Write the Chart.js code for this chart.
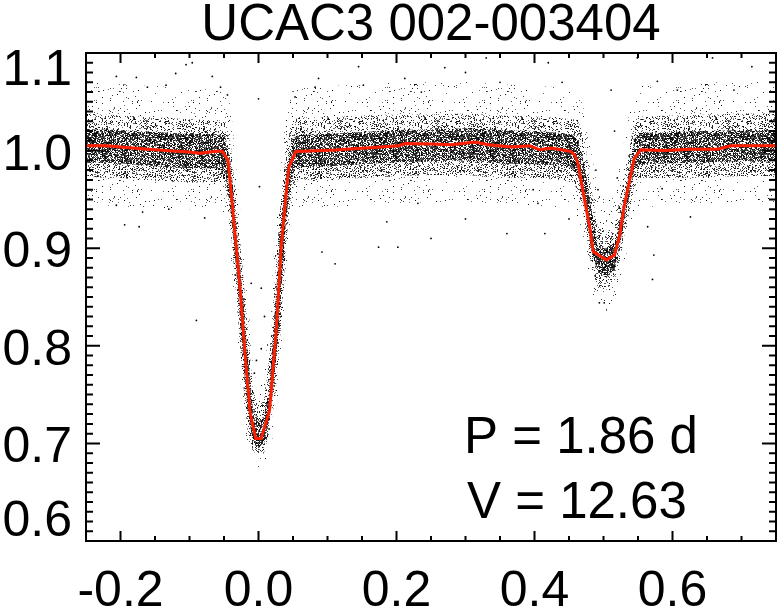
<!DOCTYPE html>
<html><head><meta charset="utf-8"><title>UCAC3 002-003404</title>
<script src="https://cdn.jsdelivr.net/npm/chart.js@4/dist/chart.umd.min.js"></script>
<style>html,body{margin:0;padding:0;background:#fff}canvas{display:block}</style>
</head><body>
<canvas id="lc" width="780" height="609"></canvas>
<script>
// ================== DATA ==================
const starName="UCAC3 002-003404";
const infoLines=["P = 1.86 d","V = 12.63"];
const xTicks=[-0.2,0.0,0.2,0.4,0.6];
const yTicks=[0.6,0.7,0.8,0.9,1.0,1.1];

// red model curve
const modelPhase=[-0.25,-0.22,-0.17,-0.124,-0.105,-0.086,-0.057,-0.052,-0.045,-0.044,-0.035,-0.027,-0.018,-0.012,-0.004,0.004,0.016,0.0255,0.033,0.040,0.044,0.054,0.111,0.183,0.2033,0.212,0.2514,0.280,0.314,0.333,0.367,0.393,0.4077,0.424,0.439,0.453,0.458,0.463,0.4725,0.480,0.485,0.504,0.516,0.523,0.530,0.5446,0.554,0.588,0.626,0.665,0.684,0.75];
const modelFlux=[1.005,1.005,1.002,0.9995,0.9988,0.9974,0.9995,0.999,0.991,0.989,0.922,0.861,0.779,0.731,0.705,0.705,0.734,0.813,0.902,0.956,0.983,0.999,1.0005,1.004,1.005,1.0073,1.0067,1.006,1.0087,1.006,1.0036,1.005,1.0008,1.0026,1.0008,0.999,0.9957,0.987,0.9495,0.922,0.8965,0.888,0.893,0.912,0.943,0.992,1.0008,1.0001,1.0015,1.0015,1.005,1.005];

// point cloud edges on one phase grid: sparse halo, dense band, dark core
const cloudPhase=[-0.25,-0.20,-0.15,-0.10,-0.06,-0.048,-0.040,-0.032,-0.024,-0.016,-0.008,0.0,0.008,0.016,0.024,0.032,0.040,0.048,0.058,0.10,0.15,0.20,0.25,0.30,0.35,0.40,0.44,0.455,0.463,0.4725,0.482,0.4915,0.5036,0.516,0.5255,0.535,0.5446,0.554,0.60,0.65,0.70,0.75];
const haloHi=[1.070,1.068,1.066,1.064,1.062,1.060,1.045,0.980,0.920,0.850,0.780,0.750,0.770,0.830,0.910,0.980,1.040,1.060,1.065,1.066,1.068,1.070,1.070,1.070,1.068,1.066,1.065,1.064,1.060,1.040,1.000,0.960,0.950,0.960,0.990,1.030,1.060,1.066,1.068,1.070,1.070,1.070];
const haloLo=[0.945,0.943,0.940,0.940,0.940,0.935,0.890,0.820,0.745,0.690,0.680,0.675,0.680,0.690,0.720,0.780,0.870,0.930,0.940,0.942,0.944,0.946,0.947,0.947,0.945,0.944,0.942,0.938,0.930,0.900,0.855,0.840,0.835,0.845,0.870,0.900,0.935,0.942,0.944,0.945,0.946,0.946];
const outerHi=[1.038,1.036,1.034,1.032,1.031,1.030,1.005,0.945,0.888,0.820,0.755,0.735,0.745,0.790,0.870,0.945,1.000,1.030,1.034,1.034,1.036,1.037,1.037,1.038,1.036,1.035,1.033,1.032,1.031,1.011,0.963,0.922,0.916,0.922,0.956,0.990,1.031,1.035,1.036,1.037,1.038,1.038];
const outerLo=[0.973,0.972,0.969,0.967,0.968,0.965,0.915,0.850,0.775,0.715,0.692,0.688,0.690,0.712,0.745,0.815,0.905,0.960,0.970,0.970,0.972,0.974,0.975,0.975,0.973,0.972,0.970,0.967,0.960,0.929,0.881,0.861,0.857,0.867,0.895,0.929,0.963,0.972,0.972,0.973,0.974,0.974];
const innerHi=[1.022,1.021,1.019,1.017,1.017,1.015,0.985,0.925,0.860,0.795,0.735,0.722,0.728,0.760,0.840,0.920,0.975,1.012,1.016,1.017,1.019,1.021,1.022,1.023,1.021,1.020,1.018,1.016,1.010,0.985,0.940,0.905,0.900,0.905,0.935,0.970,1.012,1.018,1.019,1.020,1.021,1.021];
const innerLo=[0.988,0.987,0.984,0.982,0.982,0.978,0.935,0.875,0.800,0.735,0.700,0.695,0.700,0.725,0.770,0.845,0.930,0.975,0.983,0.984,0.986,0.988,0.989,0.990,0.987,0.986,0.985,0.982,0.975,0.945,0.900,0.875,0.870,0.878,0.910,0.945,0.980,0.986,0.987,0.988,0.989,0.989];

// stray points away from the cloud
const strayPhase=[-0.206,-0.177,-0.161,-0.134,-0.120,-0.105,-0.096,-0.067,-0.055,-0.045,0.000,0.0014,-0.194,-0.173,-0.168,-0.206,-0.078,-0.090,-0.0105,0.004,0.004,-0.003,0.0087,-0.006,0.092,0.111,0.174,0.202,0.186,0.231,0.082,0.087,0.145,0.152,0.212,0.236,0.053,0.516,0.489,0.520,0.405,0.398,0.415,0.571,0.564,0.573,0.626,0.585,0.494,0.501,0.549,0.578,0.607,0.658,0.689,0.715,0.511,0.492,0.27,0.30,0.33,0.35,0.42,0.44,0.25,0.30,0.36,0.45,-0.13];
const strayFlux=[1.076,1.075,1.065,1.067,1.079,1.088,1.090,1.076,1.065,1.057,1.053,0.963,0.924,0.922,0.937,0.944,0.931,0.826,0.864,0.859,0.797,0.785,0.830,0.772,0.896,0.884,0.901,0.901,0.927,0.946,1.065,1.074,1.086,1.067,1.074,1.060,1.055,1.020,0.980,0.972,0.946,0.960,0.915,0.868,0.922,0.893,0.932,0.961,0.844,0.844,1.095,1.071,1.062,1.095,1.062,1.086,1.062,0.960,1.085,1.080,1.095,1.070,1.090,1.070,0.910,0.930,0.915,0.930,0.940];

// ================== CHART ==================
const FONT='"Liberation Sans", Arial, Helvetica, sans-serif';
const pts=(xs,ys)=>xs.map((x,i)=>({x,y:ys[i]}));

// speckled fill so the bands read as dots (fixed hash, same every run)
function speckle(density,seed){
  const c=document.createElement("canvas"); c.width=97; c.height=89;
  const g=c.getContext("2d");
  for(let j=0;j<c.height;j++) for(let i=0;i<c.width;i++){
    const h=Math.sin(i*12.9898+j*78.233+seed*37.719)*43758.5453, f=h-Math.floor(h);
    if(f<density){ g.fillStyle=`rgba(0,0,0,${0.55+f/density*0.45})`; g.fillRect(i,j,1,1); }
  }
  return g.createPattern(c,"repeat");
}
const band=(label,data,order,fill,color)=>({label,data,showLine:true,order,fill,backgroundColor:color,borderColor:'rgba(0,0,0,0)',borderWidth:0,pointRadius:0,tension:0});
const clear='rgba(0,0,0,0)';

// frame, inward ticks and labels
const framePlugin={id:'frame',afterDraw(chart){
  const {ctx,chartArea:a,scales:{x,y}}=chart;
  ctx.save(); ctx.strokeStyle='#000'; ctx.lineWidth=2;
  ctx.strokeRect(a.left,a.top,a.right-a.left,a.bottom-a.top);
  ctx.beginPath();
  for(let i=-4;i<=14;i++){
    const px=x.getPixelForValue(i*0.05), len=(i%4===0)?10:5;
    ctx.moveTo(px,a.bottom); ctx.lineTo(px,a.bottom-len);
    ctx.moveTo(px,a.top); ctx.lineTo(px,a.top+len);
  }
  for(let i=61;i<=109;i++){
    const py=y.getPixelForValue(i*0.01), len=(i%10===0)?14:7;
    ctx.moveTo(a.left,py); ctx.lineTo(a.left+len,py);
    ctx.moveTo(a.right,py); ctx.lineTo(a.right-len,py);
  }
  ctx.stroke();
  ctx.fillStyle='#000'; ctx.font='50px '+FONT;
  ctx.textAlign='center'; ctx.textBaseline='alphabetic';
  xTicks.forEach(v=>ctx.fillText(v.toFixed(1),x.getPixelForValue(v),606));
  ctx.textAlign='right';
  yTicks.forEach(v=>{
    const py=y.getPixelForValue(v), off=(v===1.1)?32:(v===0.6)?-5:19;
    ctx.fillText(v.toFixed(1),72,py+off);
  });
  ctx.textAlign='left'; ctx.font='51px '+FONT;
  ctx.fillText(infoLines[0],464,453);
  ctx.fillText(infoLines[1],467,518);
  ctx.restore();
}};

new Chart(document.getElementById("lc"),{
  type:'scatter',
  data:{datasets:[
    {label:'model',data:pts(modelPhase,modelFlux),showLine:true,borderColor:'#ff1e00',borderWidth:3,pointRadius:0,tension:0,fill:false,order:0},
    {label:'stray',data:pts(strayPhase,strayFlux),showLine:false,pointRadius:0.9,pointBackgroundColor:'#000',pointBorderWidth:0,order:1},
    band('innerHi',pts(cloudPhase,innerHi),2,false,clear),
    band('innerLo',pts(cloudPhase,innerLo),2,'-1',speckle(0.58,1)),
    band('outerHi',pts(cloudPhase,outerHi),3,false,clear),
    band('outerLo',pts(cloudPhase,outerLo),3,'-1',speckle(0.22,2)),
    band('haloHi',pts(cloudPhase,haloHi),4,false,clear),
    band('haloLo',pts(cloudPhase,haloLo),4,'-1',speckle(0.028,3))
  ]},
  options:{
    responsive:false, devicePixelRatio:1, animation:false, events:[],
    layout:{padding:{left:86,right:2,top:0,bottom:68}},
    scales:{
      x:{type:'linear',min:-0.25,max:0.75,display:false},
      y:{type:'linear',min:0.6,max:1.1,display:false}
    },
    plugins:{
      legend:{display:false}, tooltip:{enabled:false},
      title:{display:true,text:starName,fullSize:false,color:'#000',font:{family:FONT,size:51,weight:'normal',lineHeight:1},padding:{top:0,bottom:2}}
    }
  },
  plugins:[framePlugin]
});
</script>
</body></html>
